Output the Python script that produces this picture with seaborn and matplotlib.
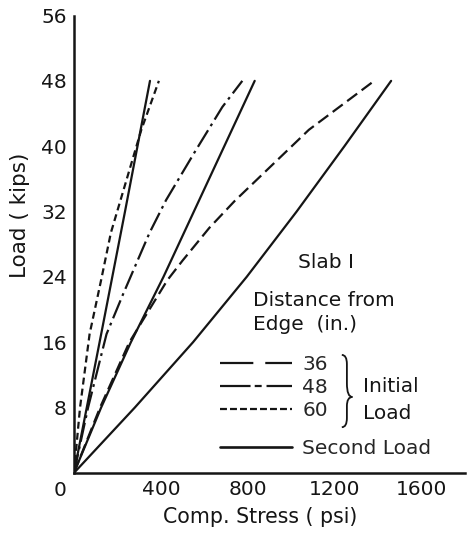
import numpy as np
import pandas as pd
import seaborn as sns
import matplotlib.pyplot as plt
from matplotlib.lines import Line2D
from matplotlib.path import Path
from matplotlib.patches import PathPatch

# second load (solid lines), load in kips vs comp. stress in psi
load_s1 = [0, 16, 32, 48]
stress_s1 = [0, 118, 235, 350]
load_s2 = [0, 8, 16, 24, 32, 40, 48]
stress_s2 = [0, 125, 262, 412, 552, 692, 832]
load_s3 = [0, 8, 16, 24, 32, 40, 48]
stress_s3 = [0, 280, 548, 795, 1025, 1245, 1460]

# initial load, distance from edge (in.)
load_60 = [0, 8, 17, 23.6, 29.4, 42, 48]
stress_60 = [0, 28, 72, 125, 170, 310, 391]
load_48 = [0, 8, 17, 22, 29.4, 33.4, 39.2, 44.8, 48]
stress_48 = [0, 65, 150, 228, 348, 424, 554, 683, 775]
load_36 = [0, 8, 16, 23.6, 26, 30, 33.3, 42, 48]
stress_36 = [0, 120, 255, 430, 500, 623, 740, 1081, 1382]

x_ticks = [0, 400, 800, 1200, 1600]
y_ticks = [8, 16, 24, 32, 40, 48, 56]
dist_labels = ["36", "48", "60"]

sns.set_style("white")
plt.rcParams["font.family"] = ["DejaVu Sans"]
plt.rcParams["lines.scale_dashes"] = False

ls_36 = (0, (9, 4))
ls_48 = (0, (14, 3.5, 2, 3.5))
ls_60 = (0, (5, 3))
ink = "#151515"
lw = 1.6
fs = 14.5

fig = plt.figure(figsize=(4.74, 5.35), dpi=100)
ax = fig.add_axes([0.156, 0.116, 0.825, 0.855])

curves = [
    (stress_s1, load_s1, "-"),
    (stress_s2, load_s2, "-"),
    (stress_s3, load_s3, "-"),
    (stress_60, load_60, ls_60),
    (stress_48, load_48, ls_48),
    (stress_36, load_36, ls_36),
]
for xs, ys, ls in curves:
    df = pd.DataFrame({"stress": xs, "load": ys})
    sns.lineplot(data=df, x="stress", y="load", ax=ax, color=ink, lw=lw,
                 linestyle=ls, sort=False, estimator=None)

ax.set_xlim(0, 1800)
ax.set_ylim(0, 56)
ax.set_xticks(x_ticks)
ax.set_xticklabels([""] + [str(t) for t in x_ticks[1:]])
ax.set_yticks(y_ticks)
ax.set_yticklabels([str(t) for t in y_ticks])
ax.annotate("0", xy=(0, 0), xytext=(-14, -18), textcoords="offset pixels",
            ha="center", va="center", fontsize=fs, color=ink)
ax.tick_params(direction="in", length=6, width=1.3, labelsize=fs, pad=5,
               colors=ink)
for side in ["top", "right"]:
    ax.spines[side].set_visible(False)
for side in ["left", "bottom"]:
    ax.spines[side].set_linewidth(1.8)
    ax.spines[side].set_color(ink)

ax.set_xlabel("Comp. Stress ( psi)", fontsize=14.8, color=ink)
ax.xaxis.set_label_coords(0.475, -0.075)
ax.set_ylabel("Load ( kips)", fontsize=15.5, color=ink)
ax.yaxis.set_label_coords(-0.112, 0.564)

ax.text(0.645, 0.461, "Slab I", transform=ax.transAxes, fontsize=fs,
        ha="center", va="center", color=ink)
ax.text(0.458, 0.397, "Distance from\nEdge  (in.)", transform=ax.transAxes,
        fontsize=fs, ha="left", va="top", color=ink, linespacing=1.3)

# legend samples drawn a bit longer-dashed, as on the original sheet
leg_styles = [(0, (24, 8.6)), (0, (22, 3, 5, 3.5)), (0, (5, 2.2))]
handles = [Line2D([], [], color=ink, lw=lw, linestyle=s) for s in leg_styles]
leg1 = ax.legend(handles, dist_labels, loc="upper left",
                 bbox_to_anchor=(0.373, 0.258), frameon=False, fontsize=fs,
                 handlelength=3.6, handletextpad=0.5, labelspacing=0.2,
                 borderpad=0, borderaxespad=0)
ax.add_artist(leg1)
ax.legend([Line2D([], [], color=ink, lw=lw + 0.3)], ["Second Load"],
          loc="upper left", bbox_to_anchor=(0.373, 0.074), frameon=False,
          fontsize=fs, handlelength=3.6, handletextpad=0.5, borderpad=0,
          borderaxespad=0)

# brace grouping the three initial-load entries
bx0, bx1, bx2 = 0.685, 0.698, 0.712
yt, ym, yb = 0.258, 0.166, 0.100
verts = [(bx0, yt), (bx1, yt), (bx1, yt - 0.02), (bx1, ym + 0.03),
         (bx1, ym), (bx2, ym), (bx1, ym), (bx1, ym - 0.02),
         (bx1, yb + 0.02), (bx1, yb), (bx0, yb)]
codes = [Path.MOVETO, Path.CURVE3, Path.CURVE3, Path.LINETO,
         Path.CURVE3, Path.CURVE3, Path.CURVE3, Path.CURVE3,
         Path.LINETO, Path.CURVE3, Path.CURVE3]
ax.add_patch(PathPatch(Path(verts, codes), transform=ax.transAxes,
                       fill=False, lw=1.3, edgecolor=ink, clip_on=False))
ax.text(0.739, 0.188, "Initial", transform=ax.transAxes, fontsize=fs,
        ha="left", va="center", color=ink)
ax.text(0.739, 0.131, "Load", transform=ax.transAxes, fontsize=fs,
        ha="left", va="center", color=ink)

fig.savefig("out.png", dpi=100)
